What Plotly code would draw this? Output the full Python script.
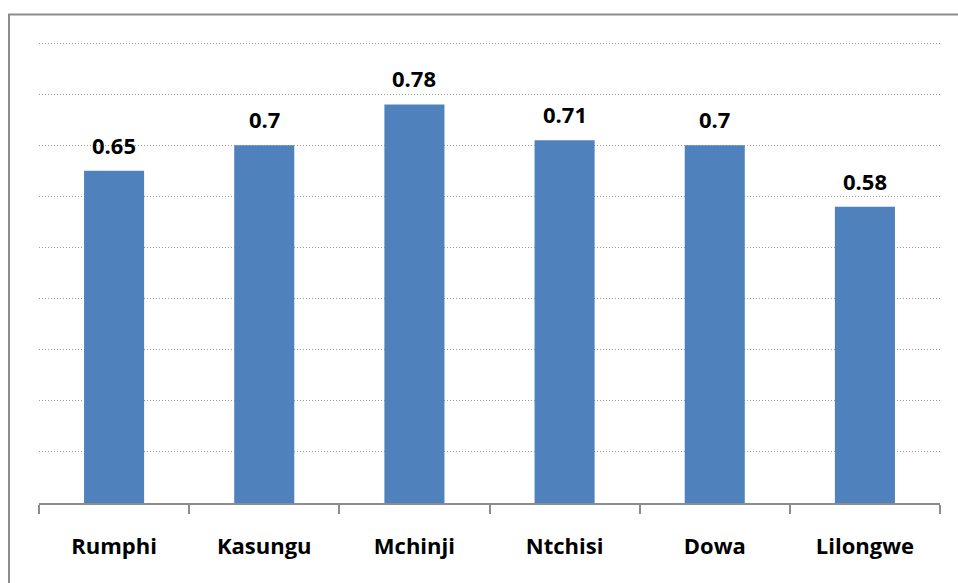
import plotly.graph_objects as go

districts = ["Rumphi", "Kasungu", "Mchinji", "Ntchisi", "Dowa", "Lilongwe"]
values = [0.65, 0.7, 0.78, 0.71, 0.7, 0.58]
y_ticks = [0.1, 0.2, 0.3, 0.4, 0.5, 0.6, 0.7, 0.8, 0.9]

BAR_BLUE = "#4F81BD"
AXIS_GREY = "#8C8C8C"
FONT = "Open Sans"

fig = go.Figure()
fig.add_trace(go.Bar(
    x=districts,
    y=values,
    width=0.4,
    marker=dict(color=BAR_BLUE, line=dict(width=0)),
    hoverinfo="x+y",
))

# value labels above each bar
for d, v in zip(districts, values):
    fig.add_annotation(
        x=d, y=v, text=f"<b>{v:g}</b>", showarrow=False,
        xanchor="center", yanchor="bottom", yshift=9,
        font=dict(family=FONT, size=22, color="#000000"),
    )

# chart border (left and top edges sit inside the page)
fig.add_shape(
    type="rect", xref="paper", yref="paper",
    x0=-0.0333, x1=1.1, y0=-0.3, y1=1.0503,
    line=dict(color=AXIS_GREY, width=2), layer="above",
)

fig.update_layout(
    width=958, height=583,
    margin=dict(l=39, r=18, t=38, b=80),
    paper_bgcolor="white", plot_bgcolor="white",
    showlegend=False,
    bargap=0.6,
    font=dict(family=FONT, color="#000000"),
    xaxis=dict(
        type="category",
        tickson="boundaries",
        ticks="outside", ticklen=9, tickwidth=1.5, tickcolor=AXIS_GREY,
        showline=True, linecolor=AXIS_GREY, linewidth=1.5,
        showgrid=False,
        tickfont=dict(family=FONT, size=22, color="#000000", weight="bold"),
        ticklabelstandoff=23,
    ),
    yaxis=dict(
        range=[0, 0.91],
        tickvals=y_ticks,
        showticklabels=False,
        showgrid=True, gridcolor="#9A9A9A", gridwidth=1, griddash="1px,2px",
        zeroline=False, showline=False, ticks="",
    ),
)

fig.write_html("out.html")
